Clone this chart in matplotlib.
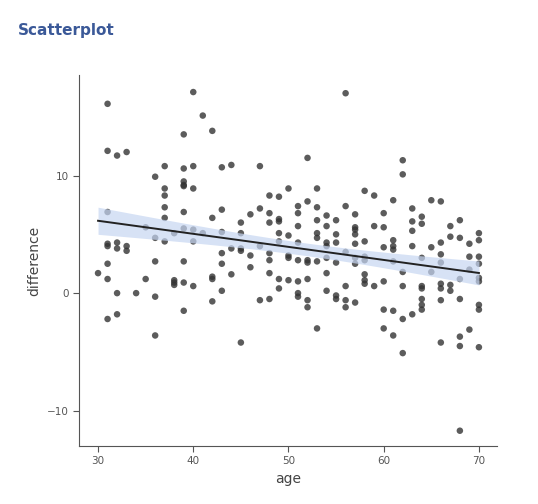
import numpy as np
import matplotlib.pyplot as plt

# age -> list of difference values
POINTS = {
    30: [1.7],
    31: [16.1, 12.1, 6.9, 4.2, 4.0, 2.5, 1.2, -2.2],
    32: [11.7, 4.3, 3.8, 0.0, -1.8],
    33: [12.0, 4.0, 3.6],
    34: [0.0],
    35: [5.6, 1.2],
    36: [9.9, 4.7, 2.7, -0.3, -3.6],
    37: [10.8, 8.9, 8.3, 7.3, 6.4, 4.4],
    38: [5.1, 1.1, 0.9, 0.7],
    39: [13.5, 10.6, 9.5, 9.2, 9.1, 6.9, 5.5, 2.7, 0.9, -1.5],
    40: [17.1, 10.8, 8.9, 5.4, 4.4, 0.6],
    41: [15.1, 5.1],
    42: [13.8, 6.4, 1.4, 1.2, -0.7],
    43: [10.7, 7.1, 5.2, 3.4, 2.5, 0.2],
    44: [10.9, 3.8, 1.6],
    45: [6.0, 5.1, 3.8, 3.6, -4.2],
    46: [6.7, 3.2, 2.2],
    47: [10.8, 7.2, 4.0, -0.6],
    48: [8.3, 6.8, 6.0, 3.4, 2.8, 1.7, -0.5],
    49: [8.2, 6.3, 6.1, 5.1, 4.4, 1.2, 0.4],
    50: [8.9, 4.9, 3.2, 3.0, 1.1],
    51: [7.4, 6.8, 5.7, 4.3, 2.8, 1.0, 0.0, -0.3],
    52: [11.5, 7.8, 2.8, 2.6, 1.2, -0.6, -1.2],
    53: [8.9, 7.3, 6.2, 5.1, 4.7, 2.7, -3.0],
    54: [6.6, 5.7, 4.3, 4.0, 3.0, 1.7, 0.2],
    55: [6.2, 5.0, 4.3, 2.6, -0.2, -0.5],
    56: [17.0, 7.4, 3.5, 0.6, -0.6, -1.2],
    57: [6.7, 5.6, 5.4, 5.0, 4.2, 3.0, 2.5, -0.8],
    58: [8.7, 4.4, 3.1, 2.8, 1.6, 1.1, 0.8],
    59: [8.3, 5.7, 0.6],
    60: [6.8, 5.6, 3.9, 1.0, -1.4, -3.0],
    61: [7.9, 4.5, 4.0, 3.7, 2.7, -1.5, -3.6],
    62: [11.3, 10.1, 1.8, 0.6, -2.2, -5.1],
    63: [7.2, 6.1, 5.3, 4.0, -1.8],
    64: [6.5, 5.9, 3.0, 0.6, 0.4, -0.5, -1.0, -1.4],
    65: [7.9, 3.9, 1.8],
    66: [7.8, 4.3, 3.3, 2.6, 0.8, 0.4, -0.6, -4.2],
    67: [5.7, 4.8, 0.7, 0.2],
    68: [6.2, 4.7, 1.2, -0.5, -3.7, -4.5, -11.7],
    69: [4.2, 3.1, 2.0, -3.1],
    70: [5.1, 4.5, 3.1, 2.5, 1.3, 1.0, -1.0, -1.4, -4.6],
}

age = np.array([a for a, vals in POINTS.items() for _ in vals], dtype=float)
diff = np.array([v for vals in POINTS.values() for v in vals])

# linear fit with 95% confidence band
n = len(age)
slope, intercept = np.polyfit(age, diff, 1)
xs = np.linspace(30, 70, 100)
ys = intercept + slope * xs
resid = diff - (intercept + slope * age)
s = np.sqrt(np.sum(resid ** 2) / (n - 2))
se = s * np.sqrt(1 / n + (xs - age.mean()) ** 2 / np.sum((age - age.mean()) ** 2))
ci = 1.97 * se

fig = plt.figure(figsize=(5.38, 5.04), dpi=100)
fig.text(18 / 538, 1 - 30 / 504, 'Scatterplot', fontsize=11, fontweight='bold',
         color='#3b5998', va='center', ha='left')
ax = fig.add_axes([79 / 538, 1 - 446 / 504, 418 / 538, 371 / 504])

ax.scatter(age, diff, s=22, color='#333333', alpha=0.8, edgecolors='none', zorder=2)
ax.fill_between(xs, ys - ci, ys + ci, color='#c6d6f2', alpha=0.7, linewidth=0, zorder=3)
ax.plot(xs, ys, color='#222222', linewidth=1.4, zorder=4)

ax.set_xlim(28.0, 71.9)
ax.set_ylim(-13.0, 18.55)
ax.set_xticks([30, 40, 50, 60, 70])
ax.set_yticks([-10, 0, 10])
ax.set_xlabel('age', fontsize=10, color='#444444')
ax.set_ylabel('difference', fontsize=10, color='#444444')
ax.tick_params(labelsize=7.5, colors='#555555', length=4)
for side in ['top', 'right']:
    ax.spines[side].set_visible(False)
for side in ['left', 'bottom']:
    ax.spines[side].set_color('#555555')

plt.savefig('out.png', dpi=100)
plt.close()
